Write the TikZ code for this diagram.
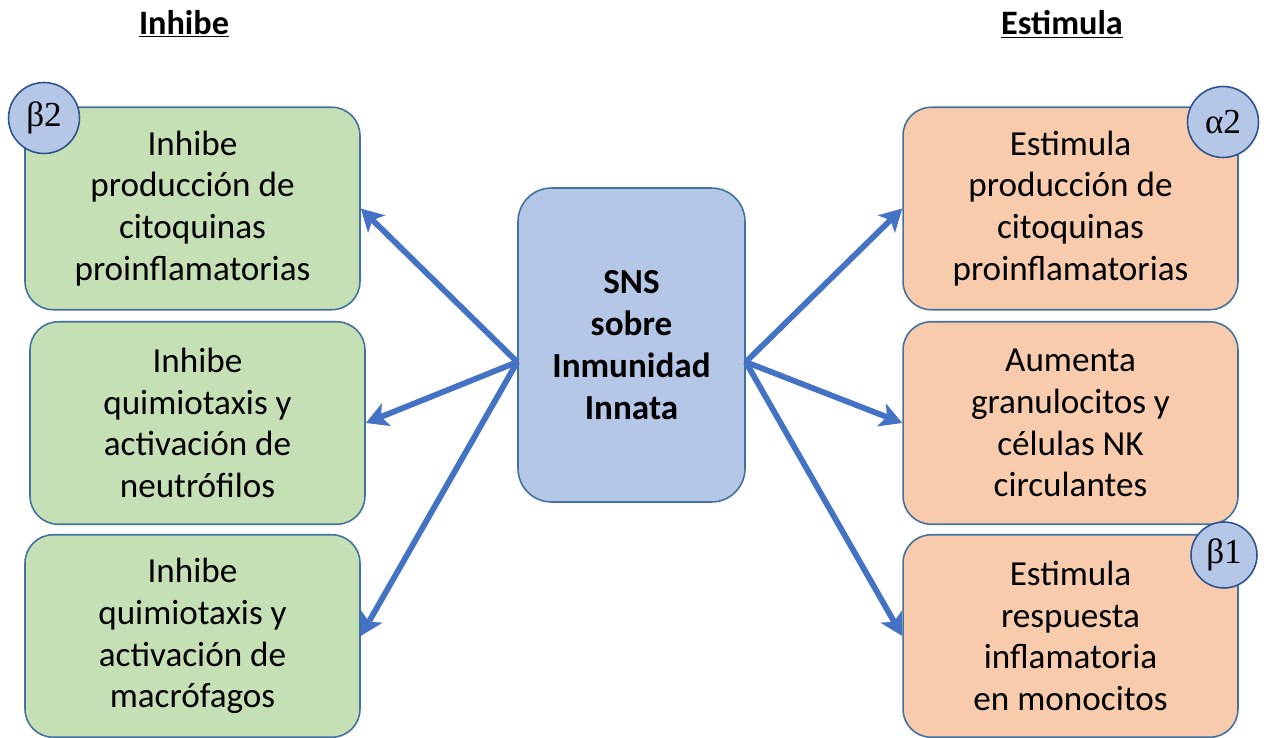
\documentclass[tikz,border=0pt]{standalone}
\usepackage{fontspec}
\setmainfont{Carlito}
\newfontfamily\greekfont{Liberation Serif}
\usepackage{tikz}
\usetikzlibrary{arrows.meta,positioning,calc}
\definecolor{edgeblue}{HTML}{41719C}
\definecolor{arrowblue}{HTML}{4472C4}
\definecolor{hubfill}{HTML}{B4C7E7}
\definecolor{inhfill}{HTML}{C5E0B4}
\definecolor{estfill}{HTML}{F8CBAD}
\definecolor{badgeedge}{HTML}{2F528F}
\tikzset{
  effect/.style ={rounded corners=16pt,draw=edgeblue,line width=0.9pt,
                  minimum width=6.7cm,minimum height=4.05cm,align=center,
                  inner sep=2pt,font=\fontsize{20}{23.8}\selectfont},
  inhbox/.style ={effect,fill=inhfill},
  estbox/.style ={effect,fill=estfill},
  hubbox/.style ={rounded corners=19pt,draw=edgeblue,line width=0.9pt,fill=hubfill,
                  minimum width=4.54cm,minimum height=6.28cm,align=center,
                  font=\fontsize{20}{23.8}\selectfont\bfseries},
  badge/.style  ={circle,draw=badgeedge,line width=0.9pt,fill=hubfill,
                  minimum size=1.42cm,inner sep=0pt,
                  font=\greekfont\fontsize{20}{20}\selectfont},
  heading/.style={font=\fontsize{19.5}{23.8}\selectfont\bfseries},
  act/.style    ={-{Stealth[length=4.4mm,width=4.8mm,inset=1.1mm]},line width=3.3pt,
                  draw=arrowblue}
}

\begin{document}
\begin{tikzpicture}[x=0.02cm,y=-0.02cm]
  \useasboundingbox (0,0) rectangle (1267,737);
  % column headings
  \node[heading] (hinh) at (184,24) {\underline{Inhibe}};
  \node[heading] (hest) at (1062,24) {\underline{Estimula}};
  % central node
  \node[hubbox] (sns) at (631.5,345) {SNS\\sobre\\Inmunidad\\Innata};
  % inhibitory effects
  \node[inhbox] (inh1) at (192.5,208.5) {Inhibe\\producción de\\citoquinas\\proinflamatorias};
  \node[inhbox] (inh2) at (197.5,423) {Inhibe\\quimiotaxis y\\activación de\\neutrófilos};
  \node[inhbox] (inh3) at (192.5,636) {Inhibe\\quimiotaxis y\\activación de\\macrófagos};
  % stimulatory effects
  \node[estbox] (est1) at (1070.5,208.5) {Estimula\\producción de\\citoquinas\\proinflamatorias};
  \node[estbox] (est2) at (1070.5,423) {Aumenta\\granulocitos y\\células NK\\circulantes};
  \node[estbox] (est3) at (1070.5,636) {Estimula\\respuesta\\inflamatoria\\en monocitos};
  % receptor badges
  \node[badge] (b2)  at (44,118)   {β2};
  \node[badge] (a2)  at (1223,122) {α2};
  \node[badge,minimum size=1.32cm] (b1) at (1224,555) {β1};
  % arrows out of the hub
  \coordinate (hubL) at ($(sns.west)+(0,17)$);
  \coordinate (hubR) at ($(sns.east)+(0,17)$);
  \foreach \t in {inh1,inh2,inh3} \draw[act] (hubL) -- (\t.east);
  \foreach \t in {est1,est2,est3} \draw[act] (hubR) -- (\t.west);
\end{tikzpicture}
\end{document}
